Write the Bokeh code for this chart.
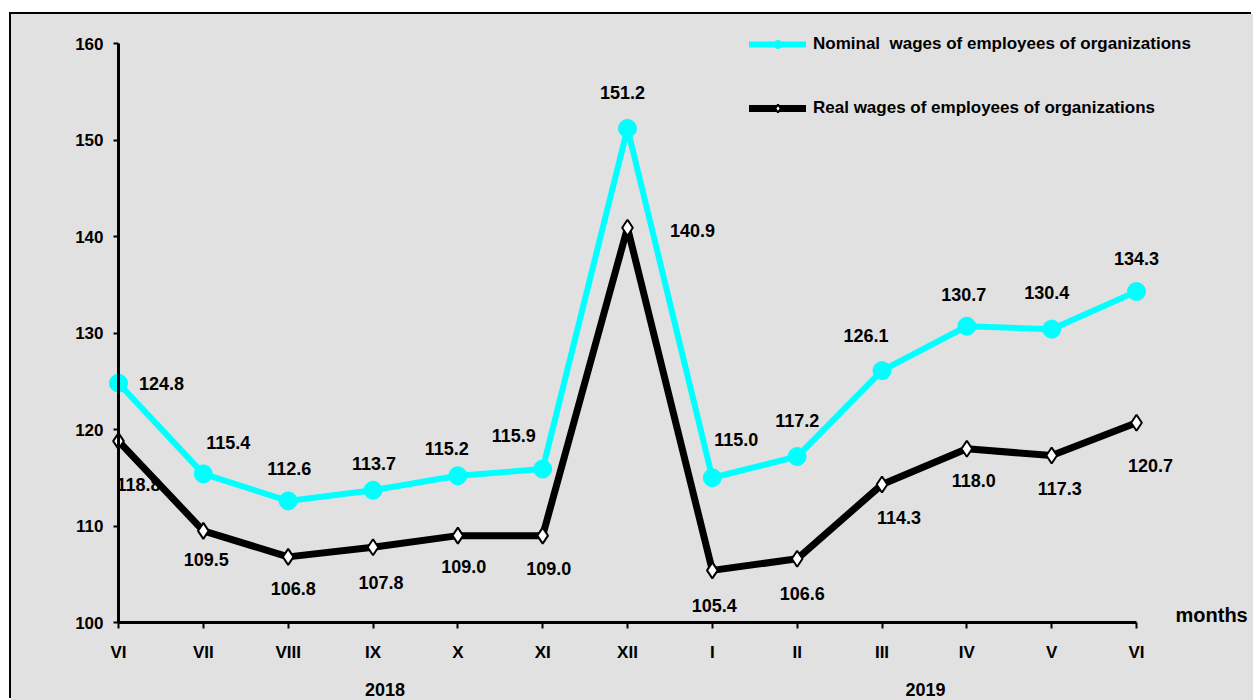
import numpy as np
from bokeh.plotting import figure
from bokeh.models import (ColumnDataSource, FixedTicker, Range1d, Legend, LegendItem,
                          LabelSet, Label, LinearAxis)
from bokeh.embed import file_html
from bokeh.resources import INLINE
from bokeh.core.properties import value

# ---------------- data ----------------
months = ["VI", "VII", "VIII", "IX", "X", "XI", "XII", "I", "II", "III", "IV", "V", "VI"]
nominal = [124.8, 115.4, 112.6, 113.7, 115.2, 115.9, 151.2, 115.0, 117.2, 126.1, 130.7, 130.4, 134.3]
real = [118.8, 109.5, 106.8, 107.8, 109.0, 109.0, 140.9, 105.4, 106.6, 114.3, 118.0, 117.3, 120.7]
years = ["2018", "2019"]
year_first = [0, 7]
year_last = [6, 12]
y_ticks = [100, 110, 120, 130, 140, 150, 160]
series_names = ["Nominal  wages of employees of organizations",
                "Real wages of employees of organizations"]

# label offsets in pixels (right, up)
nom_dx = [43, 25, 1, 1, -11, -29, -5, 24, 0, -16, -3, -5, 0]
nom_dy = [0, 31, 32, 27, 27, 34, 36, 38, 36, 35, 32, 37, 33]
real_dx = [20, 3, 5, 8, 6, 6, 65, 2, 5, 17, 7, 8, 14]
real_dy = [-43, -29, -32, -35, -31, -33, -3, -35, -35, -33, -32, -33, -43]

# ---------------- layout constants ----------------
GRAY = "#E1E1E1"
FONT = "Liberation Sans"
OX, OY = 11, 14                # page position of the canvas
W, H = 1253 - OX, 700 - OY
AX_X0 = 118.0 - OX             # canvas px of first category
STEP = (1136 - 118) / 12.0
Y100 = 622.0 - OY              # canvas px of value 100
PPU = (622 - 43) / 60.0
MBL = 60

x_start = (MBL - AX_X0) / STEP
x_end = (W - AX_X0) / STEP
y_top = 100 + Y100 / PPU
y_bot = 100 - (H - Y100) / PPU

p = figure(width=W, height=H, output_backend="svg", toolbar_location=None,
           x_range=Range1d(x_start, x_end), y_range=Range1d(y_bot, y_top),
           x_axis_location=None,
           min_border_left=MBL, min_border_bottom=0, min_border_top=0, min_border_right=0,
           background_fill_color=GRAY, border_fill_color=GRAY, outline_line_color=None,
           margin=(OY, 0, 0, OX))
p.styles = {"box-shadow": "-2px -2px 0 0 black", "background-color": GRAY}
p.xgrid.visible = False
p.ygrid.visible = False

x = list(range(len(months)))
src = ColumnDataSource(dict(
    x=x, nominal=nominal, real=real,
    nom_label=[f"{v:.1f}" for v in nominal], real_label=[f"{v:.1f}" for v in real],
    nom_dx=nom_dx, nom_dy=nom_dy, real_dx=real_dx, real_dy=real_dy))

# ---------------- axes ----------------
# month axis: sits at y=100 inside the frame, ticks and labels pointing down
xa = LinearAxis(ticker=FixedTicker(ticks=x),
                major_label_overrides={i: m for i, m in enumerate(months)},
                bounds=(0, len(months) - 1), fixed_location=100)
p.add_layout(xa, "above")
ya = p.yaxis[0]
ya.ticker = FixedTicker(ticks=y_ticks)
ya.bounds = (y_ticks[0], y_ticks[-1])
ya.fixed_location = 0
for ax in (xa, ya):
    ax.axis_line_width = 3
    ax.axis_line_color = "black"
    ax.major_tick_line_width = 2
    ax.major_tick_line_color = "black"
    ax.minor_tick_line_color = None
    ax.major_label_text_font = FONT
    ax.major_label_text_font_style = "bold"
    ax.major_label_text_font_size = "17px"
    ax.major_label_text_color = "black"
xa.major_tick_out = 0
xa.major_tick_in = 6
xa.major_label_standoff = -39
ya.major_tick_in = 0
ya.major_tick_out = 5
ya.major_label_standoff = 10

# ---------------- series ----------------
ln = p.line("x", "nominal", source=src, line_color="#00FFFF", line_width=6,
            line_join="round", line_cap="round")
sn = p.scatter("x", "nominal", source=src, marker="circle", size=18,
               fill_color="#00FFFF", line_color="#00FFFF")
lr = p.line("x", "real", source=src, line_color="black", line_width=7,
            line_join="round", line_cap="round")
sr = p.scatter("x", "real", source=src, marker="diamond", size=16,
               fill_color="white", line_color="black", line_width=2)

lab_kw = dict(source=src, text_align="center", text_baseline="middle", text_font=value(FONT),
              text_font_style="bold", text_font_size="18px", text_color="black")
p.add_layout(LabelSet(x="x", y="nominal", text="nom_label", x_offset="nom_dx",
                      y_offset="nom_dy", **lab_kw))
p.add_layout(LabelSet(x="x", y="real", text="real_label", x_offset="real_dx",
                      y_offset="real_dy", **lab_kw))

# ---------------- legend ----------------
leg_left, leg_top = 749 - OX, 34 - OY
legend = Legend(items=[LegendItem(label=series_names[0], renderers=[ln, sn]),
                       LegendItem(label=series_names[1], renderers=[lr, sr])],
                location=(leg_left - MBL, H - (leg_top + 84)),
                glyph_width=57, glyph_height=20, label_height=20, spacing=44,
                padding=0, margin=0, label_standoff=7,
                border_line_color=None, background_fill_alpha=0,
                label_text_font=FONT, label_text_font_style="bold",
                label_text_font_size="17px", label_text_color="black")
p.add_layout(legend)

# ---------------- extra texts ----------------
txt = dict(text_font=FONT, text_font_style="bold", text_color="black")
p.add_layout(Label(x=len(months) - 1, y=100, x_offset=39, y_offset=8, text="months",
                   text_align="left", text_baseline="middle", text_font_size="20px", **txt))
p.add_layout(Label(x=0, y=(y_ticks[0] + y_ticks[-1]) / 2, x_offset=-63, text="percent",
                   angle=np.pi / 2, text_align="center", text_baseline="middle",
                   text_font_size="19px", **txt))
year_dx = [12, 1]
for yr, a, b, dx in zip(years, year_first, year_last, year_dx):
    p.add_layout(Label(x=(a + b) / 2, y=100, x_offset=dx, y_offset=-67, text=yr,
                       text_align="center", text_baseline="middle",
                       text_font_size="18px", **txt))

open("out.html", "w").write(file_html(p, INLINE))
